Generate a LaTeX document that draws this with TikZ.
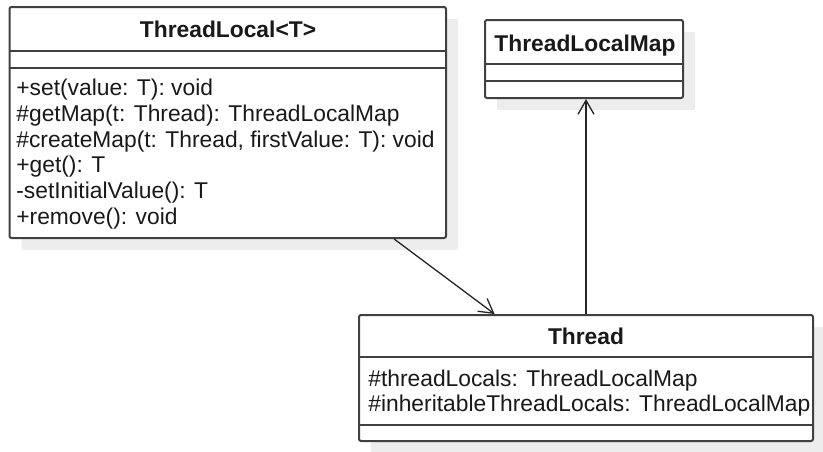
\documentclass[tikz,border=0pt]{standalone}
\usepackage{fontspec}
\setmainfont{Liberation Sans}
\usetikzlibrary{arrows.meta}
\usetikzlibrary{shadows}

\begin{document}
\begin{tikzpicture}[x=0.5pt,y=-0.5pt]
	 \tikzstyle{classbox}=[rectangle,draw=black!75,line width=1pt,rounded corners=1pt,fill=white,inner sep=0pt,drop shadow={shadow xshift=6pt,shadow yshift=-6pt,fill=black!7,opacity=1}]
	 \tikzstyle{classname}=[anchor=base,font=\fontsize{11.4}{13}\selectfont\bfseries,text=black!90]
	 \tikzstyle{member}=[anchor=base west,inner sep=0pt,font=\fontsize{11.4}{13}\selectfont,text=black!90]
	 \tikzstyle{divider} = [draw,line width=1pt,black!75]
	 \tikzstyle{assoc} = [draw,line width=0.65pt,black!85,-{Straight Barb[length=7pt,width=8pt]}]
	 \useasboundingbox (0,0) rectangle (823,451);
	 \node[classbox,minimum width=218.25pt,minimum height=115.5pt] (tl) at (227.75,122.5) {};
	 \node[classbox,minimum width=99pt,minimum height=39pt] (tlm) at (584,59) {};
	 \node[classbox,minimum width=227pt,minimum height=63pt] (th) at (586,378) {};
	 \draw[divider] (tl.west |- 0,51) -- (tl.east |- 0,51);
	 \draw[divider] (tl.west |- 0,68) -- (tl.east |- 0,68);
	 \draw[divider] (tlm.west |- 0,64) -- (tlm.east |- 0,64);
	 \draw[divider] (tlm.west |- 0,81) -- (tlm.east |- 0,81);
	 \draw[divider] (th.west |- 0,357) -- (th.east |- 0,357);
	 \draw[divider] (th.west |- 0,425) -- (th.east |- 0,425);
	 \node[classname] (tlname) at (228,37) {ThreadLocal<T>};
	 \node[member] (m1) at (16,95) {+set(value: T): void};
	 \node[member] (m2) at (16,121) {\#getMap(t: Thread): ThreadLocalMap};
	 \node[member] (m3) at (16,147) {\#createMap(t: Thread, firstValue: T): void};
	 \node[member] (m4) at (16,172) {+get(): T};
	 \node[member] (m5) at (16,198) {-setInitialValue(): T};
	 \node[member] (m6) at (16,224) {+remove(): void};
	 \node[classname] (tlmname) at (585,51) {ThreadLocalMap};
	 \node[classname] (thname) at (586,344) {Thread};
	 \node[member] (a1) at (368,386) {\#threadLocals: ThreadLocalMap};
	 \node[member] (a2) at (368,411) {\#inheritableThreadLocals: ThreadLocalMap};
	 \draw[assoc] (tl.-35) -- (th.145);
	 \draw[assoc] (th.north) -- (th.north |- tlm.south);
 \end{tikzpicture}
\end{document}
